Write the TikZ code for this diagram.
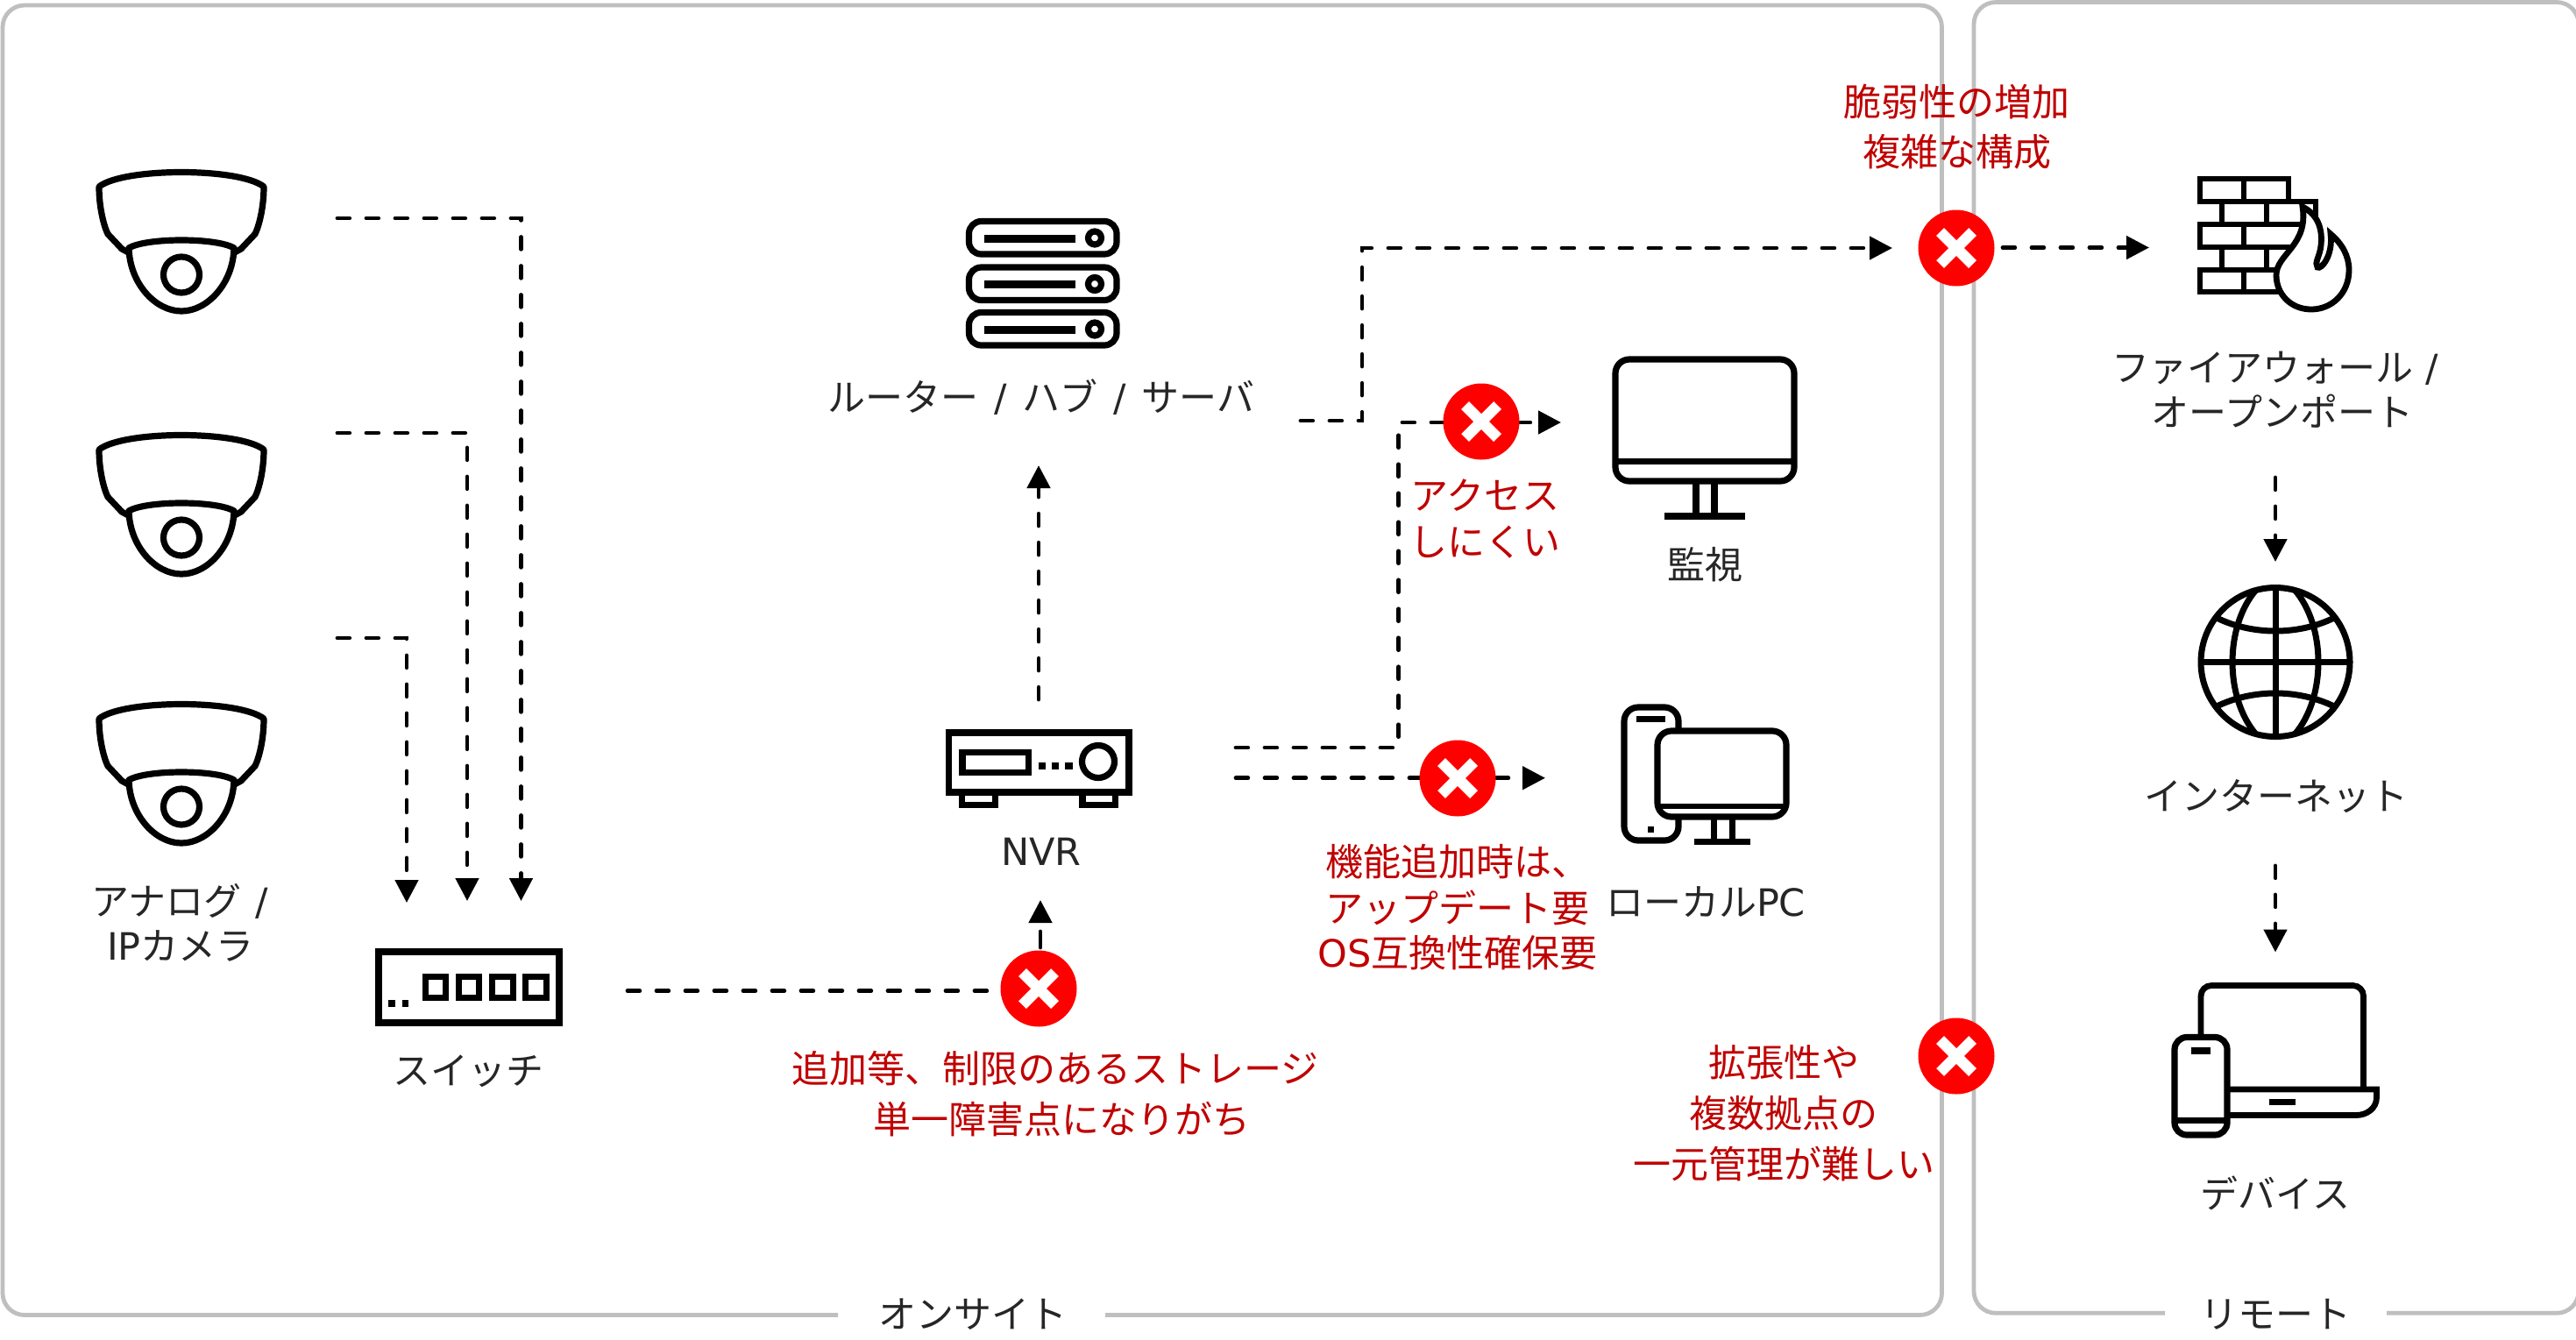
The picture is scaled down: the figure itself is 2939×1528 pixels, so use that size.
\documentclass[tikz,border=0pt]{standalone}
\usepackage{fontspec}
\usetikzlibrary{arrows.meta}
\setmainfont{Noto Sans CJK JP}
\newfontfamily\latfont{DejaVu Sans}
\newcommand{\latn}[1]{{\latfont #1}}
\definecolor{txt}{HTML}{262626}
\definecolor{warn}{HTML}{C00000}
\definecolor{alert}{HTML}{FF0000}
\definecolor{framec}{HTML}{BFBFBF}
\tikzset{
  lab/.style={inner sep=0pt,outer sep=0pt,anchor=center,yshift=-0.8pt,text=txt,font=\fontsize{21.5pt}{24pt}\selectfont,text height=18.9pt,text depth=2.6pt},
  warnlab/.style={lab,text=warn},
  conn/.style={line width=2.4pt,line cap=round,dash pattern=on 6.9pt off 9.6pt},
  tipped/.style={conn,-{Triangle[length=13pt,width=13pt,sep=0pt]}},
  frame/.style={draw=framec,line width=2.4pt,rounded corners=12.5pt},
  icon/.style={draw=black,line width=3.6pt,line join=round},
  iconf/.style={fill=black,draw=none},
  alertdot/.style={circle,fill=alert,draw=none,minimum size=43.5pt,inner sep=0pt,outer sep=0pt},
  crossbar/.style={draw=white,line width=6.2pt}
}
\newcommand{\camera}[2]{%
\begin{scope}[shift={(#1,#2)}]
  \draw[icon,fill=white] (-94,20) .. controls (-66,-2) and (66,-2) .. (94,20)
    .. controls (94,45) and (88,66) .. (84,74) -- (68,91) -- (57,97)
    -- (-57,97) -- (-68,91) -- (-84,74) .. controls (-88,66) and (-94,45) .. (-94,20) -- cycle;
  \draw[icon,fill=white] (-60,90) .. controls (-40,78) and (40,78) .. (60,90)
    .. controls (59,130) and (30,162) .. (0,162) .. controls (-30,162) and (-59,130) .. (-60,90) -- cycle;
  \draw[icon] (0,120.5) circle[radius=20.5];
\end{scope}}
\newcommand{\servrow}[1]{%
  \draw[icon,rounded corners=7pt] (1105.5,#1+3.5) rectangle (1274,#1+41);
  \fill (1122.8,#1+18.5) rectangle (1227,#1+27.5);
  \draw[icon] (1249,#1+22.5) circle[radius=7.5];}
\newcommand{\cross}[1]{%
  \draw[crossbar] ([shift={(-18.5,-18.5)}]#1) -- ([shift={(18.5,18.5)}]#1);
  \draw[crossbar] ([shift={(-18.5,18.5)}]#1) -- ([shift={(18.5,-18.5)}]#1);}
\begin{document}
\begin{tikzpicture}[x=0.5pt,y=-0.5pt]
\useasboundingbox (0,0) rectangle (2939,1528);
% frames
\coordinate (fa) at (956,1500.5);\coordinate (fb) at (1261,1500.5);
\coordinate (fc) at (2470,1498.3);\coordinate (fd) at (2723,1498.3);
\draw[frame] (fa) -- (3,1500.5) -- (3,6) -- (2215.5,6) -- (2215.5,1500.5) -- (fb);
\draw[frame] (fc) -- (2252,1498.3) -- (2252,2.5) -- (2942,2.5) -- (2942,1498.3) -- (fd);
% connector ends
\coordinate (x1) at (1185,1128);
\coordinate (x2) at (1690,481);
\coordinate (x3) at (1663,888);
\coordinate (x4) at (2232,283);
\coordinate (x5) at (2232,1205);
\coordinate (c1) at (385,249);\coordinate (c1b) at (594.5,249);\coordinate (c1e) at (594.5,1028);
\coordinate (c2) at (385,494);\coordinate (c2b) at (533,494);\coordinate (c2e) at (533,1028);
\coordinate (c3) at (385,728);\coordinate (c3b) at (464,728);\coordinate (c3e) at (464,1030);
\coordinate (s1) at (716,1130.5);\coordinate (s1e) at (1150,1130.5);
\coordinate (n0) at (1187,1081);\coordinate (n0e) at (1187,1027);
\coordinate (n1) at (1185,798);\coordinate (n1e) at (1185,531);
\coordinate (r1) at (1484,480);\coordinate (r1b) at (1554,480);\coordinate (r1c) at (1554,283);\coordinate (r1e) at (2159,283);
\coordinate (m1) at (1410,853);\coordinate (m1b) at (1595.6,853);\coordinate (m1c) at (1595.6,482);\coordinate (m1e) at (1781,482);
\coordinate (m2) at (1410,887.7);\coordinate (m2e) at (1763,887.7);
\coordinate (f1) at (2285,282.5);\coordinate (f1e) at (2452,282.5);
\coordinate (g1) at (2596,545);\coordinate (g1e) at (2596,641);
\coordinate (g2) at (2596,988);\coordinate (g2e) at (2596,1086.5);
% connectors
\draw[tipped] (c1) -- (c1b) -- (c1e);
\draw[tipped] (c2) -- (c2b) -- (c2e);
\draw[tipped] (c3) -- (c3b) -- (c3e);
\draw[conn] (s1) -- (s1e);
\draw[conn,-{Triangle[length=13pt,width=13pt,sep=0pt]},dash pattern=on 9pt off 20pt] (n0) -- (n0e);
\draw[tipped] (n1) -- (n1e);
\draw[tipped] (r1) -- (r1b) -- (r1c) -- (r1e);
\draw[tipped] (m1) -- (m1b) -- (m1c) -- (m1e);
\draw[tipped] (m2) -- (m2e);
\draw[tipped] (f1) -- (f1e);
\draw[tipped] (g1) -- (g1e);
\draw[tipped] (g2) -- (g2e);
% alert marks
\foreach \n in {x1,x2,x3,x4,x5}{
  \node[alertdot] (dot\n) at (\n) {};
  \cross{\n}
}
% cameras
\camera{207}{193}
\camera{207}{493}
\camera{207}{800}
% switch
\draw[icon,line width=3.8pt,miter limit=10,line join=miter] (432,1086) rectangle (638,1167);
\foreach \a in {481.5,519.5,558,596}{
  \draw[black,line width=3.5pt] (\a+3.5,1114) rectangle (\a+27,1138);
}
\fill (443,1140.7) rectangle (450.5,1149);
\fill (458.5,1140.7) rectangle (466,1149);
% server
\servrow{249}
\servrow{301.5}
\servrow{353}
% NVR
\draw[icon,line join=miter] (1082.6,836) rectangle (1288,904);
\fill (1078.6,832) rectangle (1291.8,840);
\draw[black,line width=3.6pt] (1097.5,907) -- (1097.5,918.5) -- (1135.5,918.5) -- (1135.5,907);
\draw[black,line width=3.6pt] (1235,907) -- (1235,918.5) -- (1272.5,918.5) -- (1272.5,907);
\draw[black,line width=3.6pt] (1098,858.5) rectangle (1173.5,881.5);
\fill (1185,870) rectangle (1193,878);
\fill (1200,870) rectangle (1208,878);
\fill (1215,870) rectangle (1224,878);
\draw[icon] (1253,869) circle[radius=18.5];
% monitor
\draw[icon,rounded corners=8pt] (1843,410) rectangle (2047,549);
\fill (1843,523) rectangle (2047,530);
\draw[black,line width=3.6pt] (1935,549) -- (1935,587) (1956,549) -- (1956,587);
\fill (1898.6,585) rectangle (1991,592.7);
% PC
\draw[icon,rounded corners=8pt,fill=white] (1853,807) rectangle (1915,959);
\fill (1867,817) rectangle (1900,824);
\fill (1880,943) rectangle (1887,950);
\draw[black,line width=3.2pt] (1955.5,934) -- (1955.5,958) (1976.5,934) -- (1976.5,958);
\fill (1933,957) rectangle (1997,963.5);
\draw[icon,rounded corners=8pt,fill=white] (1891,834) rectangle (2038,932);
\fill (1891,917) rectangle (2038,923);
% firewall
\begin{scope}[black,line width=3.1pt]
\draw (2510,204) rectangle (2610.7,230.3);
\draw (2560.3,204) -- (2560.3,230.3);
\draw (2535.3,230.3) rectangle (2642,256);
\draw (2586,230.3) -- (2586,256);
\draw (2510,256) rectangle (2632,282);
\draw (2560.3,256) -- (2560.3,282);
\draw (2535.3,282) rectangle (2620,307.7);
\draw (2586,282) -- (2586,307.7);
\draw (2510,307.7) rectangle (2620,333.3);
\draw (2560.3,307.7) -- (2560.3,333.3);
\end{scope}
\draw[black,line width=3.4pt,fill=white,line join=miter,miter limit=6]
  (2627,236) .. controls (2645,245) and (2650,262) .. (2648,280)
  .. controls (2647,292) and (2640,300) .. (2644,305)
  .. controls (2648,308) and (2662,292) .. (2659,267)
  .. controls (2672,278) and (2680,292) .. (2680,308)
  .. controls (2680,335) and (2660,353) .. (2637,353)
  .. controls (2613,353) and (2597,335) .. (2597,314)
  .. controls (2597,290) and (2634,280) .. (2627,236) -- cycle;
% globe
\begin{scope}[black,line width=3.5pt]
\draw (2596,755.5) circle[radius=85];
\draw (2596,671) -- (2596,840);
\draw (2511,755.5) -- (2681,755.5);
\draw (2574,673) .. controls (2538,715) and (2538,796) .. (2574,838);
\draw (2618,673) .. controls (2654,715) and (2654,796) .. (2618,838);
\draw (2529,705) .. controls (2570,725) and (2622,725) .. (2663,705);
\draw (2529,806) .. controls (2570,786) and (2622,786) .. (2663,806);
\end{scope}
% laptop and phone
\draw[black,line width=3.4pt,rounded corners=6pt] (2511,1190) -- (2511,1124.5) -- (2696.5,1124.5) -- (2696.5,1243);
\draw[black,line width=3.4pt,line join=miter] (2540,1243) -- (2711.5,1243) -- (2711.5,1252) .. controls (2711.5,1265) and (2700,1272.5) .. (2688,1272.5) -- (2540,1272.5);
\fill (2589,1254) rectangle (2619,1261);
\draw[icon,rounded corners=7pt,fill=white] (2481,1183.5) rectangle (2541,1295);
\fill (2500,1195) rectangle (2522,1202.5);
\fill (2481,1275) rectangle (2541,1282);
% labels
\node[lab] (t1) at (205,1027) {アナログ\hspace{1pt}\latn{ /}};
\node[lab] (t2) at (206,1078) {\latn{IP}カメラ};
\node[lab] (t3) at (534,1220) {スイッチ};
\node[lab] (t4) at (1188,452) {ルーター\hspace{2pt}\latn{ / }\hspace{2pt}ハブ\hspace{2pt}\latn{ / }\hspace{2pt}サーバ};
\node[lab] (t5) at (1188,970) {\latn{NVR}};
\node[lab] (t6) at (1945,643) {監視};
\node[lab] (t7) at (1946,1028) {ローカル\latn{PC}};
\node[lab] (t8) at (2596,418) {ファイアウォール\latn{ /}};
\node[lab] (t9) at (2604,469) {オープンポート};
\node[lab] (t10) at (2597,907) {インターネット};
\node[lab] (t11) at (2596,1361) {デバイス};
\node[lab] (t12) at (1110,1498) {オンサイト};
\node[lab] (t13) at (2596,1498) {リモート};
\node[warnlab] (w1) at (2232,115) {脆弱性の増加};
\node[warnlab] (w2) at (2233,172) {複雑な構成};
\node[warnlab] (w3) at (1694.5,564) {アクセス};
\node[warnlab] (w4) at (1694.5,617) {しにくい};
\node[warnlab] (w5) at (1663,982) {機能追加時は、};
\node[warnlab] (w6) at (1663,1035) {アップデート要};
\node[warnlab] (w7) at (1663,1086) {\latn{OS}互換性確保要};
\node[warnlab] (w8) at (1204,1218) {追加等、制限のあるストレージ};
\node[warnlab] (w9) at (1211,1276) {単一障害点になりがち};
\node[warnlab] (w10) at (2035,1211) {拡張性や};
\node[warnlab] (w11) at (2035,1269) {複数拠点の};
\node[warnlab] (w12) at (2035,1327) {一元管理が難しい};
\end{tikzpicture}
\end{document}
